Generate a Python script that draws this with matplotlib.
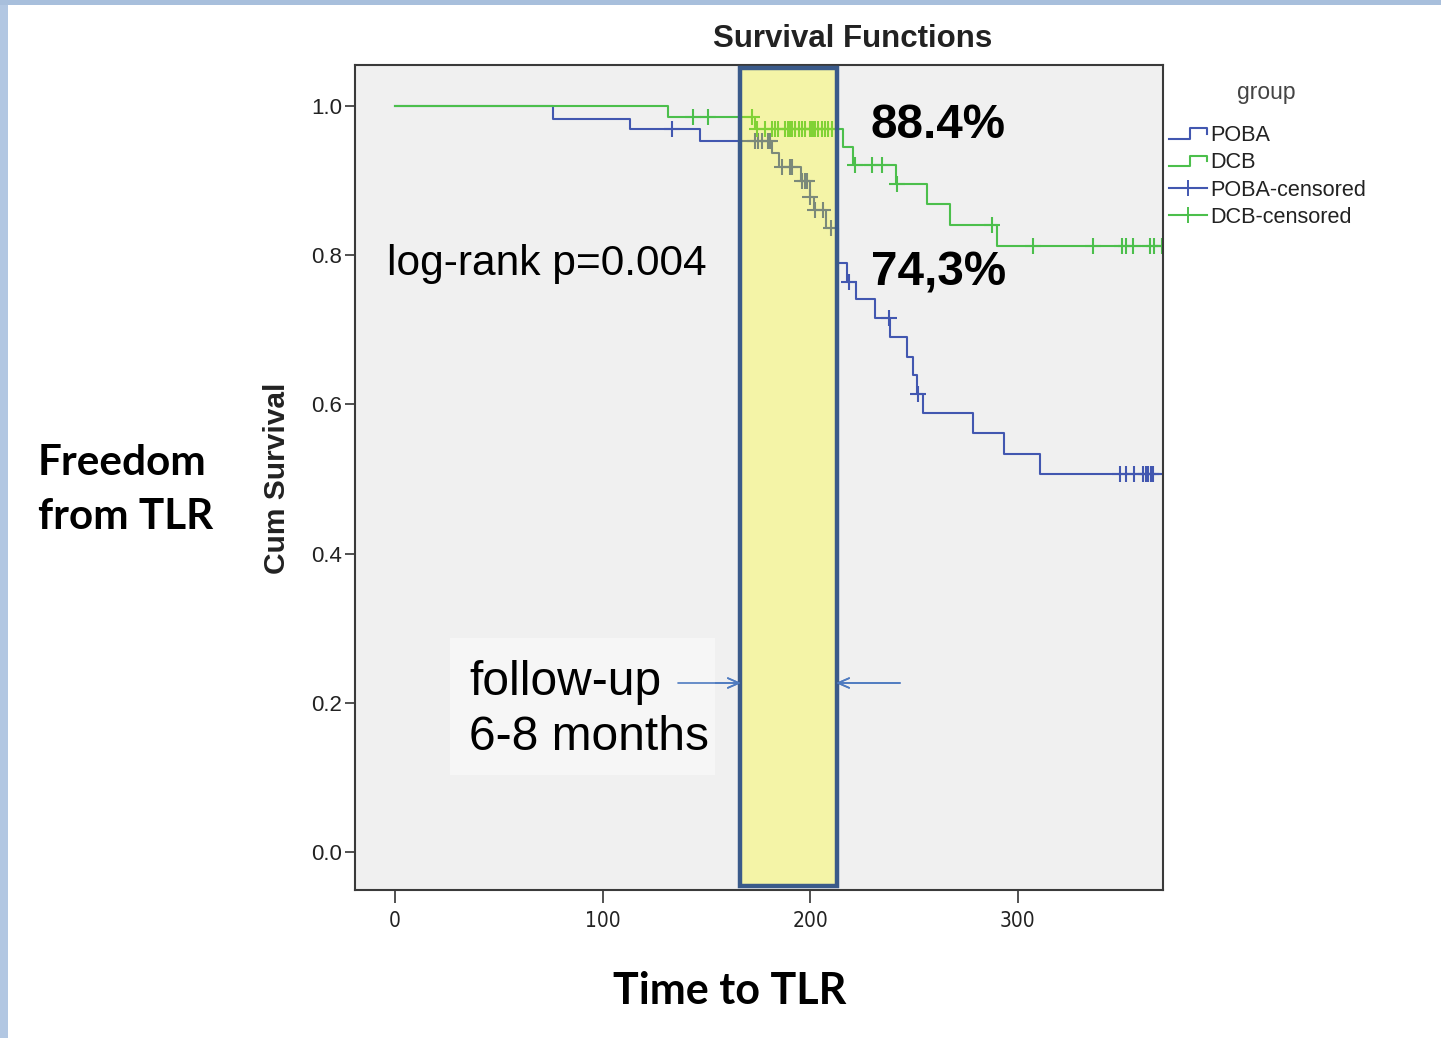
import numpy as np
import matplotlib
matplotlib.use("Agg")
from matplotlib import pyplot as plt
from matplotlib import font_manager as fm
from matplotlib.lines import Line2D
from matplotlib.patches import Rectangle
from matplotlib.legend_handler import HandlerBase

# Kaplan-Meier steps (time in days, cumulative survival)
poba_t = [0, 76, 113, 147, 181.6, 185.2, 195.7, 199.7, 202, 207.7, 213.6, 217.7, 222.2,
          231.3, 238.6, 246.6, 249.5, 251.4, 254.3, 278.4, 293.2, 310.5, 370]
poba_s = [1.0, 0.983, 0.969, 0.953, 0.937, 0.918, 0.899, 0.878, 0.860, 0.836, 0.789, 0.764, 0.741,
          0.716, 0.690, 0.664, 0.639, 0.614, 0.588, 0.561, 0.534, 0.507, 0.507]
dcb_t = [0, 131.6, 173.5, 216, 220.5, 241.4, 256.4, 267.5, 290, 370]
dcb_s = [1.0, 0.985, 0.969, 0.945, 0.921, 0.895, 0.869, 0.841, 0.813, 0.813]

# censored observations (days)
poba_cens = [133.3, 173.5, 175, 177, 179.7, 180.7, 186.3, 190.4, 191.2, 196, 197.6, 198.7, 200,
             202.5, 206.4, 210, 218.5, 237.8, 251.9, 349.4, 352.3, 355.8, 360.6, 361.9, 363,
             364.2, 365.4]
dcb_cens = [143.6, 150.8, 171.9, 174.3, 178.3, 181.5, 183.1, 184.7, 187.9, 189.5, 190.4, 191.2,
            192.8, 194.4, 196, 197.6, 200, 200.8, 201.6, 202.4, 204, 205.6, 207.2, 208.8, 210.4,
            221.5, 230, 234.7, 241.9, 287.6, 307.5, 336.4, 350.4, 352, 355.7, 363.9, 365.5, 369.5]

# follow-up window highlighted (days)
window = (166.3, 213.0)

x_ticks = [0, 100, 200, 300]
y_ticks = [0.0, 0.2, 0.4, 0.6, 0.8, 1.0]

blue = "#4257B0"
green = "#4CBF4C"

plt.rcParams["font.family"] = ["Liberation Sans", "DejaVu Sans"]

# narrow face for the x tick labels, if one is installed
narrow = dict(fontfamily="Liberation Sans")
fonts = fm.fontManager.ttflist
if any(f.name == "Liberation Sans Narrow" for f in fonts):
    narrow = dict(fontfamily="Liberation Sans Narrow")
elif any(f.name == "DejaVu Sans" and f.stretch == "condensed" for f in fonts):
    narrow = dict(fontfamily="DejaVu Sans", fontstretch="condensed")


def surv_at(t_steps, s_steps, times):
    idx = np.searchsorted(t_steps, times, side="right") - 1
    return np.array(s_steps)[idx]


class StepIcon(HandlerBase):
    def create_artists(self, legend, orig_handle, xdescent, ydescent, width, height, fontsize, trans):
        xs = np.array([0, .55, .55, 1, 1]) * width - xdescent
        ys = np.array([.15, .15, .85, .85, .5]) * height - ydescent
        return [Line2D(xs, ys, color=orig_handle.get_color(), lw=orig_handle.get_linewidth(),
                       transform=trans)]


W, H = 1441, 1038
fig = plt.figure(figsize=(W / 100, H / 100), dpi=100)
fig.patch.set_facecolor("white")
fig.add_artist(Rectangle((0, 0), 8 / W, 1, transform=fig.transFigure, fc="#B2C7E2", ec="none"))
fig.add_artist(Rectangle((0, 1 - 5 / H), 1, 5 / H, transform=fig.transFigure, fc="#A8BFDC", ec="none"))

ax = fig.add_axes([355 / W, 1 - 890 / H, (1163 - 355) / W, (890 - 65) / H])
ax.set_facecolor("#F0F0F0")

ax.step(poba_t, poba_s, where="post", color=blue, lw=1.5, zorder=2)
ax.step(dcb_t, dcb_s, where="post", color=green, lw=1.5, zorder=2)
ax.plot(poba_cens, surv_at(poba_t, poba_s, poba_cens), "+", color=blue, ms=11, mew=1.5, zorder=2)
ax.plot(dcb_cens, surv_at(dcb_t, dcb_s, dcb_cens), "+", color=green, ms=11, mew=1.5, zorder=2)

ax.set_xlim(-19.3, 370)
ax.set_ylim(-0.051, 1.055)

# highlighted follow-up window
ax.add_patch(Rectangle((window[0], -0.0456), window[1] - window[0], 1.0966,
                       fc="#FFFF00", alpha=0.3, ec="none", zorder=3))
ax.add_patch(Rectangle((window[0], -0.0456), window[1] - window[0], 1.0966,
                       fc="none", ec="#3A5A8A", lw=3.2, zorder=4))

ax.set_xticks(x_ticks)
ax.set_xticklabels([str(v) for v in x_ticks], fontsize=15, color="#222222", **narrow)
ax.set_yticks(y_ticks)
ax.set_yticklabels([f"{v:.1f}" for v in y_ticks], fontsize=16, color="#222222")
ax.tick_params(axis="x", direction="out", length=9, width=1.2, pad=6, color="#333333")
ax.tick_params(axis="y", direction="out", length=7, width=1.2, pad=2, color="#333333")
for sp in ax.spines.values():
    sp.set_color("#3A3A3A")
    sp.set_linewidth(1.5)

# legend
handles = [Line2D([], [], color=blue, lw=1.5), Line2D([], [], color=green, lw=1.5),
           Line2D([0], [0], color=blue, lw=1.5, marker="+", ms=12, mew=1.4),
           Line2D([0], [0], color=green, lw=1.5, marker="+", ms=12, mew=1.4)]
labels = ["POBA", "DCB", "POBA-censored", "DCB-censored"]
leg = fig.legend(handles, labels, loc="upper left",
                 bbox_to_anchor=(1167 / W, 1 - 123 / H), frameon=False, fontsize=15.6,
                 handlelength=1.75, handletextpad=0.15, labelspacing=0.29,
                 borderpad=0.1, borderaxespad=0,
                 handler_map={handles[0]: StepIcon(), handles[1]: StepIcon()})
for t in leg.get_texts():
    t.set_color("#222222")
fig.text(1266 / W, 1 - 93 / H, "group", ha="center", va="center", fontsize=16.5, color="#444444")

# texts
fig.text(853 / W, 1 - 39 / H, "Survival Functions", ha="center", va="center",
         fontsize=22.5, fontweight="bold", color="#222222")
fig.text(277 / W, 1 - 478 / H, "Cum Survival", ha="center", va="center", rotation=90,
         fontsize=21.5, fontweight="bold", color="#222222")
fig.text(871 / W, 1 - 125 / H, "88.4%", ha="left", va="center", fontsize=34.3, fontweight="bold")
fig.text(871 / W, 1 - 273 / H, "74,3%", ha="left", va="center", fontsize=34.3, fontweight="bold")
fig.text(387 / W, 1 - 264 / H, "log-rank p=0.004", ha="left", va="center", fontsize=30.6)

fig.add_artist(Rectangle((450 / W, 1 - 775 / H), 265 / W, 137 / H, transform=fig.transFigure,
                         fc="#F6F6F6", ec="none", zorder=1))
fig.text(469 / W, 1 - 710 / H, "follow-up\n6-8 months", ha="left", va="center",
         fontsize=34.5, linespacing=1.27, zorder=2)
arrow = dict(arrowstyle="->,head_length=0.8,head_width=0.35", color="#4F7BC0", lw=1.2,
             shrinkA=0, shrinkB=0)
fig.add_artist(plt.annotate("", xy=(741 / W, 1 - 683 / H), xytext=(678 / W, 1 - 683 / H),
                            xycoords="figure fraction", arrowprops=arrow))
fig.add_artist(plt.annotate("", xy=(836 / W, 1 - 683 / H), xytext=(900 / W, 1 - 683 / H),
                            xycoords="figure fraction", arrowprops=arrow))

fig.text(38 / W, 1 - 490 / H, "Freedom\nfrom TLR", ha="left", va="center", fontsize=30.4,
         fontweight="bold", family=["Lato", "DejaVu Sans"], linespacing=1.52)
fig.text(730 / W, 1 - 991 / H, "Time to TLR", ha="center", va="center", fontsize=31,
         fontweight="bold", family=["Lato", "DejaVu Sans"])

fig.savefig("out.png", dpi=100)
